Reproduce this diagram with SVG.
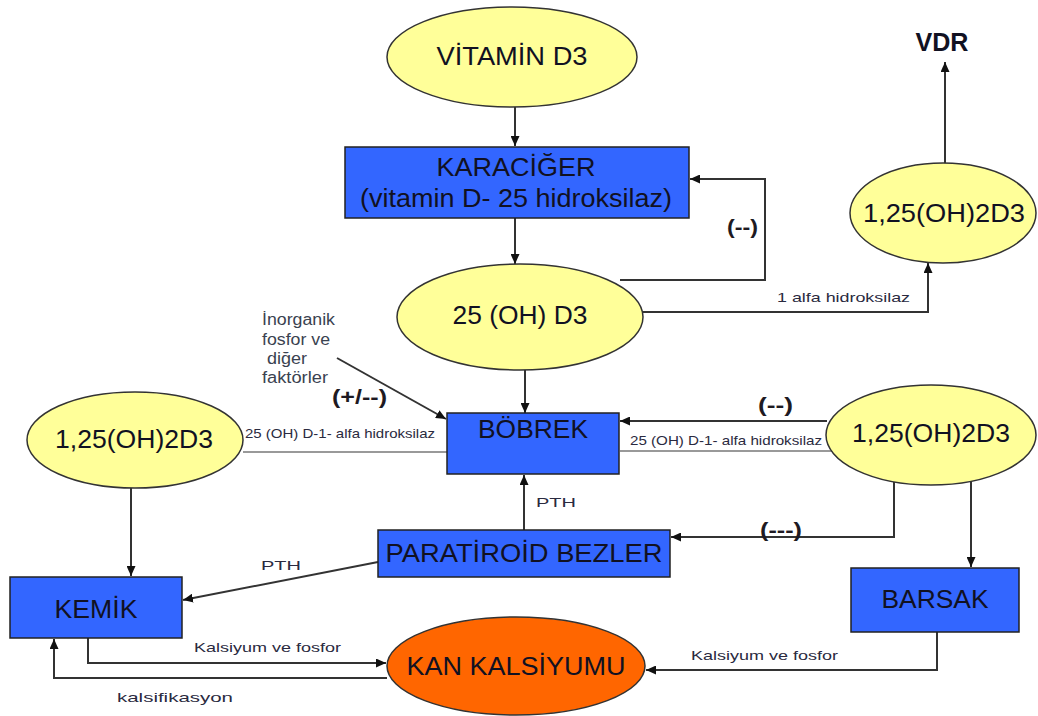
<svg xmlns="http://www.w3.org/2000/svg" width="1038" height="716" viewBox="0 0 1038 716">
<style>
.ell{fill:#FFFF99;stroke:#333;stroke-width:1.5}
.box{fill:#3366FF;stroke:#222;stroke-width:1.5}
.org{fill:#FF6600;stroke:#333;stroke-width:1.5}
.big{font-family:"Liberation Sans",Arial,sans-serif;font-size:25px;fill:#111122;text-anchor:middle}
.sm{font-family:"Liberation Sans",Arial,sans-serif;font-size:13px;fill:#2a2a40}
.inorg{font-family:"Liberation Sans",Arial,sans-serif;font-size:16px;fill:#3a4250}
.bold{font-family:"Liberation Sans",Arial,sans-serif;font-size:20px;font-weight:bold;fill:#1e1a22}
.ln{fill:none;stroke:#333;stroke-width:2}
.gl{fill:none;stroke:#999;stroke-width:2}
</style>
<defs>
<marker id="ah" markerUnits="userSpaceOnUse" markerWidth="10" markerHeight="9" refX="10" refY="4.5" orient="auto">
<path d="M0,0 L10,4.5 L0,9 z" fill="#111"/>
</marker>
</defs>
<rect width="1038" height="716" fill="#fff"/>
<g id="connectors">
<path class="ln" d="M515,107 V146" marker-end="url(#ah)"/>
<path class="ln" d="M515,218 V264" marker-end="url(#ah)"/>
<path class="ln" d="M620,280 H765 V179 H690" marker-end="url(#ah)"/>
<path class="ln" d="M643,312 H928 V263" marker-end="url(#ah)"/>
<path class="ln" d="M945,163 V62" marker-end="url(#ah)"/>
<path class="ln" d="M337,358 L446,419" marker-end="url(#ah)"/>
<path class="ln" d="M525,370 V413" marker-end="url(#ah)"/>
<path class="ln" d="M827,421 H620" marker-end="url(#ah)"/>
<path class="gl" d="M243,452 H447"/>
<path class="gl" d="M620,451 H833"/>
<path class="ln" d="M894,482 V537 H671" marker-end="url(#ah)"/>
<path class="ln" d="M971,481 V567" marker-end="url(#ah)"/>
<path class="ln" d="M524,530 V475" marker-end="url(#ah)"/>
<path class="ln" d="M378,562 L183,600" marker-end="url(#ah)"/>
<path class="ln" d="M131,488 V576" marker-end="url(#ah)"/>
<path class="ln" d="M88,638 V663 H386" marker-end="url(#ah)"/>
<path class="ln" d="M387,678 H54 V639" marker-end="url(#ah)"/>
<path class="ln" d="M937,632 V670 H646" marker-end="url(#ah)"/>
<text class="bold" x="727" y="234" textLength="31" lengthAdjust="spacingAndGlyphs">(--)</text>
<text class="sm" x="777" y="302" textLength="133" lengthAdjust="spacingAndGlyphs">1 alfa hidroksilaz</text>
<text class="bold" x="332" y="404" textLength="55" lengthAdjust="spacingAndGlyphs">(+/--)</text>
<text class="bold" x="758" y="412" textLength="35" lengthAdjust="spacingAndGlyphs">(--)</text>
<text class="sm" x="245" y="438" font-size="12" textLength="190" lengthAdjust="spacingAndGlyphs">25 (OH) D-1- alfa hidroksilaz</text>
<text class="sm" x="630" y="445" font-size="12" textLength="192" lengthAdjust="spacingAndGlyphs">25 (OH) D-1- alfa hidroksilaz</text>
<text class="bold" x="760" y="537" textLength="42" lengthAdjust="spacingAndGlyphs">(---)</text>
<text class="sm" x="536" y="507" font-size="15" textLength="40" lengthAdjust="spacingAndGlyphs">PTH</text>
<text class="sm" x="261" y="570" font-size="15" textLength="40" lengthAdjust="spacingAndGlyphs">PTH</text>
<text class="sm" x="194" y="652" textLength="147" lengthAdjust="spacingAndGlyphs">Kalsiyum ve fosfor</text>
<text class="sm" x="691" y="660" textLength="147" lengthAdjust="spacingAndGlyphs">Kalsiyum ve fosfor</text>
<text class="sm" x="117" y="702" font-size="15" textLength="116" lengthAdjust="spacingAndGlyphs">kalsifikasyon</text>
</g>
<g id="vitamin-d3">
<ellipse class="ell" cx="512" cy="57" rx="125" ry="50"/>
<text class="big" x="512" y="65" textLength="151" lengthAdjust="spacingAndGlyphs">VİTAMİN D3</text>
</g>
<g id="karaciger">
<rect class="box" x="345" y="147" width="344" height="71"/>
<text class="big" x="516" y="176" textLength="159" lengthAdjust="spacingAndGlyphs">KARACİĞER</text>
<text class="big" x="516" y="207" textLength="312" lengthAdjust="spacingAndGlyphs">(vitamin D- 25 hidroksilaz)</text>
</g>
<g id="oh-d3">
<ellipse class="ell" cx="520" cy="317" rx="123" ry="53"/>
<text class="big" x="520" y="324" textLength="135" lengthAdjust="spacingAndGlyphs">25 (OH) D3</text>
</g>
<g id="vdr">
<text class="big" x="942" y="51" font-weight="bold" font-size="22" textLength="53" lengthAdjust="spacingAndGlyphs">VDR</text>
</g>
<g id="calcitriol-top">
<ellipse class="ell" cx="943" cy="213" rx="93" ry="50"/>
<text class="big" x="944" y="222" textLength="162" lengthAdjust="spacingAndGlyphs">1,25(OH)2D3</text>
</g>
<g id="inorganik">
<text class="inorg" x="262" y="325" textLength="73" lengthAdjust="spacingAndGlyphs">İnorganik</text>
<text class="inorg" x="262" y="345" textLength="68" lengthAdjust="spacingAndGlyphs">fosfor ve</text>
<text class="inorg" x="267" y="364" textLength="40" lengthAdjust="spacingAndGlyphs">diğer</text>
<text class="inorg" x="262" y="383" textLength="66" lengthAdjust="spacingAndGlyphs">faktörler</text>
</g>
<g id="bobrek">
<rect class="box" x="447" y="413" width="172" height="61"/>
<text class="big" x="533" y="438" textLength="110" lengthAdjust="spacingAndGlyphs">BÖBREK</text>
</g>
<g id="calcitriol-left">
<ellipse class="ell" cx="135" cy="440" rx="108" ry="48"/>
<text class="big" x="134" y="448" textLength="158" lengthAdjust="spacingAndGlyphs">1,25(OH)2D3</text>
</g>
<g id="calcitriol-right">
<ellipse class="ell" cx="931" cy="435" rx="105" ry="50"/>
<text class="big" x="931" y="442" textLength="158" lengthAdjust="spacingAndGlyphs">1,25(OH)2D3</text>
</g>
<g id="paratiroid">
<rect class="box" x="378" y="530" width="292" height="47"/>
<text class="big" x="524" y="562" textLength="277" lengthAdjust="spacingAndGlyphs">PARATİROİD BEZLER</text>
</g>
<g id="kemik">
<rect class="box" x="10" y="577" width="172" height="61"/>
<text class="big" x="96" y="618" textLength="83" lengthAdjust="spacingAndGlyphs">KEMİK</text>
</g>
<g id="barsak">
<rect class="box" x="851" y="568" width="168" height="64"/>
<text class="big" x="935" y="608" textLength="107" lengthAdjust="spacingAndGlyphs">BARSAK</text>
</g>
<g id="kan-kalsiyumu">
<ellipse class="org" cx="516" cy="666" rx="129" ry="49"/>
<text class="big" x="516" y="675" textLength="219" lengthAdjust="spacingAndGlyphs">KAN KALSİYUMU</text>
</g>
</svg>
